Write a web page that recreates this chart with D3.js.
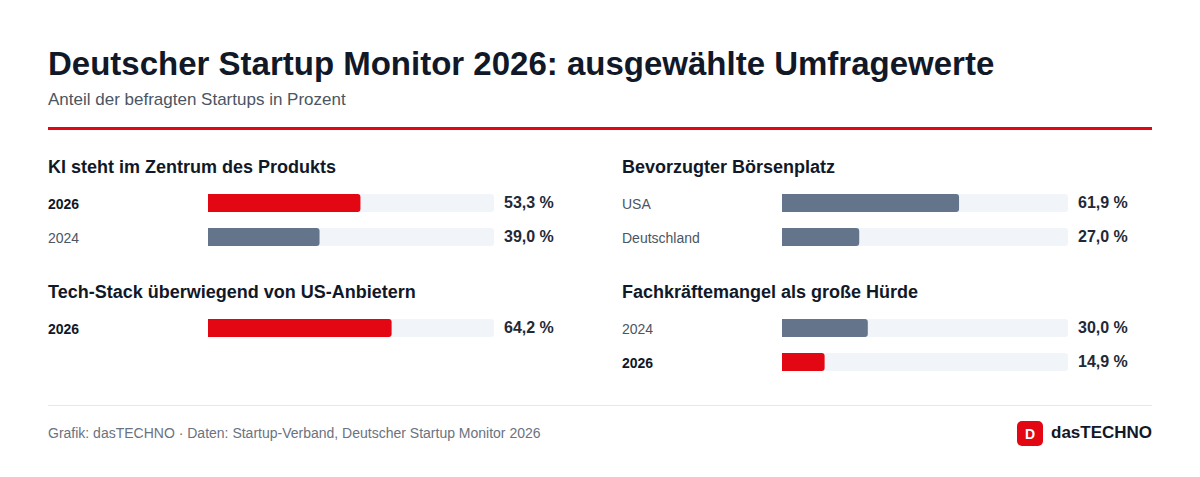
<!DOCTYPE html>
<html><head><meta charset="utf-8">
<script src="https://cdn.jsdelivr.net/npm/d3@7"></script>
<style>body{margin:0;background:#fff;font-family:"Liberation Sans",Arial,sans-serif}</style>
</head><body><svg id="chart"></svg>
<script>
// Data
const panelTitles = ["KI steht im Zentrum des Produkts", "Bevorzugter Börsenplatz", "Tech-Stack überwiegend von US-Anbietern", "Fachkräftemangel als große Hürde"];
const panelLabels = [["2026", "2024"], ["USA", "Deutschland"], ["2026"], ["2024", "2026"]];
const panelValues = [[53.3, 39.0], [61.9, 27.0], [64.2], [30.0, 14.9]];
const panelHighlight = [[true, false], [false, false], [true], [false, true]];

const width = 1200, height = 477;
const svg = d3.select("#chart").attr("width", width).attr("height", height);

svg.append("text").attr("x", 48).attr("y", 75).attr("font-size", 33).attr("font-weight", 700)
    .attr("fill", "#111827").text("Deutscher Startup Monitor 2026: ausgewählte Umfragewerte");
svg.append("text").attr("x", 48).attr("y", 105).attr("font-size", 17).attr("fill", "#4b5563")
    .text("Anteil der befragten Startups in Prozent");
svg.append("rect").attr("x", 48).attr("y", 127).attr("width", 1104).attr("height", 3).attr("fill", "#e30613");

const x = d3.scaleLinear().domain([0, 100]).range([0, 286]);
const colLeft = [48, 622], barLeft = [208, 782], panelTop = [167, 292];

panelTitles.forEach((title, i) => {
    const col = i % 2, row = Math.floor(i / 2);
    const g = svg.append("g");
    g.append("text").attr("x", colLeft[col]).attr("y", panelTop[row] + 6).attr("font-size", 18)
        .attr("font-weight", 700).attr("fill", "#111827").text(title);
    panelValues[i].forEach((v, j) => {
        const cy = panelTop[row] + 36 + j * 34;
        const hl = panelHighlight[i][j];
        g.append("text").attr("x", colLeft[col]).attr("y", cy + 6).attr("font-size", 14)
            .attr("font-weight", hl ? 700 : 400).attr("fill", hl ? "#111827" : "#4b5563").text(panelLabels[i][j]);
        g.append("rect").attr("x", barLeft[col]).attr("y", cy - 9).attr("width", x(100)).attr("height", 18)
            .attr("rx", 3).attr("fill", "#f1f4f9");
        const w = x(v);
        g.append("path").attr("fill", hl ? "#e30613" : "#64748b")
            .attr("d", `M${barLeft[col]},${cy - 9}h${w - 3}a3,3 0 0 1 3,3v12a3,3 0 0 1 -3,3h${-(w - 3)}z`);
        g.append("text").attr("x", barLeft[col] + x(100) + 10).attr("y", cy + 5).attr("font-size", 16)
            .attr("font-weight", 700).attr("fill", "#1f2937").text(d3.format(".1f")(v).replace(".", ",") + " %");
    });
});

svg.append("line").attr("x1", 48).attr("x2", 1152).attr("y1", 405.5).attr("y2", 405.5).attr("stroke", "#e5e7eb");
svg.append("text").attr("x", 48).attr("y", 438).attr("font-size", 14).attr("fill", "#6b7280")
    .text("Grafik: dasTECHNO · Daten: Startup-Verband, Deutscher Startup Monitor 2026");
svg.append("rect").attr("x", 1017).attr("y", 421).attr("width", 26).attr("height", 25).attr("rx", 5).attr("fill", "#e30613");
svg.append("text").attr("x", 1030).attr("y", 439).attr("text-anchor", "middle").attr("font-size", 14)
    .attr("font-weight", 700).attr("fill", "#fff").text("D");
svg.append("text").attr("x", 1051).attr("y", 438).attr("font-size", 17).attr("font-weight", 700)
    .attr("fill", "#111827").text("dasTECHNO");
</script></body></html>
